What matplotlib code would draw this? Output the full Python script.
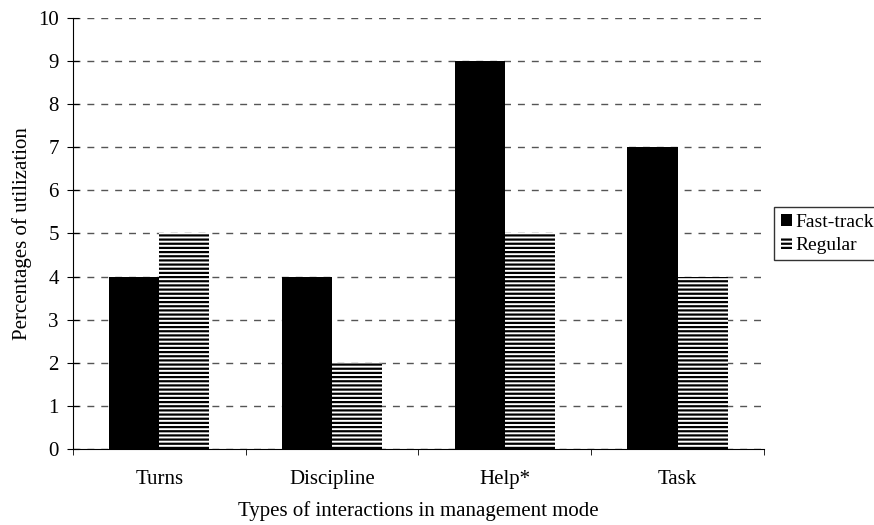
import numpy as np
import matplotlib.pyplot as plt

plt.rcParams['font.family'] = ['Liberation Serif', 'DejaVu Serif']
plt.rcParams['hatch.linewidth'] = 1.6

# categories and series values
categories = ['Turns', 'Discipline', 'Help*', 'Task']
fast_track = [4, 4, 9, 7]
regular = [5, 2, 5, 4]

x = np.arange(len(categories))
w = 0.29
fs = 15

fig = plt.figure(figsize=(8.74, 5.25), dpi=100)
ax = fig.add_axes([0.0835, 0.1448, 0.7906, 0.8209])

ax.bar(x - w / 2, fast_track, w, color='black', linewidth=0, label='Fast-track', zorder=3)
ax.bar(x + w / 2, regular, w, color='white', edgecolor='black', linewidth=0,
       hatch='----', label='Regular', zorder=3)

ax.set_xlim(-0.5, len(categories) - 0.5)
ax.set_ylim(0, 10)
ax.set_yticks(range(0, 11))
ax.yaxis.grid(True, linestyle=(0, (5, 5)), color='#555555', linewidth=1)
ax.set_axisbelow(True)

# category names at centres, tick marks at the boundaries
ax.set_xticks(x)
ax.set_xticklabels(categories, fontsize=fs)
ax.tick_params(axis='x', which='major', length=0, pad=15)
ax.set_xticks(np.arange(-0.5, len(categories)), minor=True)
ax.tick_params(axis='x', which='minor', length=4, direction='out')
ax.tick_params(axis='y', direction='inout', length=8.5, labelsize=fs, pad=6)

for s in ['top', 'right']:
    ax.spines[s].set_visible(False)

ax.set_xlabel('Types of interactions in management mode', fontsize=fs, labelpad=9)
ax.set_ylabel('Percentages of utilization', fontsize=fs, labelpad=4)

leg = fig.legend(loc='upper left', bbox_to_anchor=(774 / 874, 1 - 207 / 525),
                 fontsize=14, frameon=True, fancybox=False, edgecolor='black',
                 handlelength=0.55, handleheight=0.55, handletextpad=0.2,
                 borderpad=0.35, labelspacing=0.3, borderaxespad=0)
leg.get_frame().set_linewidth(1)

fig.savefig('out.png', dpi=100)
